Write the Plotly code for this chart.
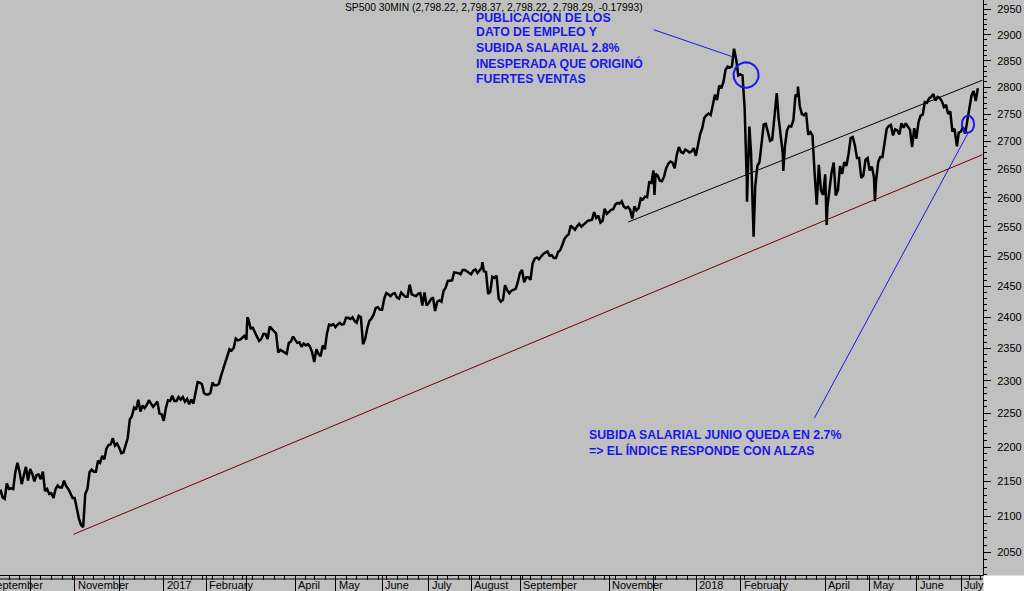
import numpy as np
import pandas as pd
import plotly.graph_objects as go

# ---------------- data ----------------
title_text = "SP500 30MIN (2,798.22, 2,798.37, 2,798.22, 2,798.29, -0.17993)"

holidays = ["2016-09-05", "2016-11-24", "2016-12-26", "2017-01-02", "2017-01-16", "2017-02-20",
            "2017-04-14", "2017-05-29", "2017-07-04", "2017-09-04", "2017-11-23", "2017-12-25",
            "2018-01-01", "2018-01-15", "2018-02-19", "2018-03-30", "2018-05-28", "2018-07-04"]

dates = [
    "2016-09-12", "2016-09-13", "2016-09-14", "2016-09-15", "2016-09-16", "2016-09-19", "2016-09-20",
    "2016-09-21", "2016-09-22", "2016-09-23", "2016-09-26", "2016-09-27", "2016-09-28", "2016-09-29",
    "2016-09-30", "2016-10-03", "2016-10-04", "2016-10-05", "2016-10-06", "2016-10-07", "2016-10-10",
    "2016-10-11", "2016-10-12", "2016-10-13", "2016-10-14", "2016-10-17", "2016-10-18", "2016-10-19",
    "2016-10-20", "2016-10-21", "2016-10-24", "2016-10-25", "2016-10-26", "2016-10-27", "2016-10-28",
    "2016-10-31", "2016-11-01", "2016-11-02", "2016-11-03", "2016-11-04", "2016-11-07", "2016-11-08",
    "2016-11-09", "2016-11-10", "2016-11-11", "2016-11-14", "2016-11-15", "2016-11-16", "2016-11-17",
    "2016-11-18", "2016-11-21", "2016-11-22", "2016-11-23", "2016-11-25", "2016-11-28", "2016-11-29",
    "2016-11-30", "2016-12-01", "2016-12-02", "2016-12-05", "2016-12-06", "2016-12-07", "2016-12-08",
    "2016-12-09", "2016-12-12", "2016-12-13", "2016-12-14", "2016-12-15", "2016-12-16", "2016-12-19",
    "2016-12-20", "2016-12-21", "2016-12-22", "2016-12-23", "2016-12-27", "2016-12-28", "2016-12-29",
    "2016-12-30",
    "2017-01-03", "2017-01-04", "2017-01-05", "2017-01-06", "2017-01-09", "2017-01-10", "2017-01-11",
    "2017-01-12", "2017-01-13", "2017-01-17", "2017-01-18", "2017-01-19", "2017-01-20", "2017-01-23",
    "2017-01-24", "2017-01-25", "2017-01-26", "2017-01-27", "2017-01-30", "2017-01-31", "2017-02-01",
    "2017-02-02", "2017-02-03", "2017-02-06", "2017-02-07", "2017-02-08", "2017-02-09", "2017-02-10",
    "2017-02-13", "2017-02-14", "2017-02-15", "2017-02-16", "2017-02-17", "2017-02-21", "2017-02-22",
    "2017-02-23", "2017-02-24", "2017-02-27", "2017-02-28", "2017-03-01 12:00", "2017-03-01", "2017-03-02",
    "2017-03-03", "2017-03-06", "2017-03-07", "2017-03-08", "2017-03-09", "2017-03-10", "2017-03-13",
    "2017-03-14", "2017-03-15", "2017-03-16", "2017-03-17", "2017-03-20", "2017-03-21", "2017-03-22",
    "2017-03-23", "2017-03-24", "2017-03-27", "2017-03-28", "2017-03-29", "2017-03-30", "2017-03-31",
    "2017-04-03", "2017-04-04", "2017-04-05", "2017-04-06", "2017-04-07", "2017-04-10", "2017-04-11",
    "2017-04-12", "2017-04-13", "2017-04-17", "2017-04-18", "2017-04-19", "2017-04-20", "2017-04-21",
    "2017-04-24", "2017-04-25", "2017-04-26", "2017-04-27", "2017-04-28", "2017-05-01", "2017-05-02",
    "2017-05-03", "2017-05-04", "2017-05-05", "2017-05-08", "2017-05-09", "2017-05-10", "2017-05-11",
    "2017-05-12", "2017-05-15", "2017-05-16", "2017-05-17", "2017-05-18", "2017-05-19", "2017-05-22",
    "2017-05-23", "2017-05-24", "2017-05-25", "2017-05-26", "2017-05-30", "2017-05-31", "2017-06-01",
    "2017-06-02", "2017-06-05", "2017-06-06", "2017-06-07", "2017-06-08", "2017-06-09", "2017-06-12",
    "2017-06-13", "2017-06-14", "2017-06-15", "2017-06-16", "2017-06-19", "2017-06-20", "2017-06-21",
    "2017-06-22", "2017-06-23", "2017-06-26", "2017-06-27", "2017-06-28", "2017-06-29", "2017-06-30",
    "2017-07-03", "2017-07-05", "2017-07-06", "2017-07-07", "2017-07-10", "2017-07-11", "2017-07-12",
    "2017-07-13", "2017-07-14", "2017-07-17", "2017-07-18", "2017-07-19", "2017-07-20", "2017-07-21",
    "2017-07-24", "2017-07-25", "2017-07-26", "2017-07-27", "2017-07-28", "2017-07-31", "2017-08-01",
    "2017-08-02", "2017-08-03", "2017-08-04", "2017-08-07", "2017-08-08 11:00", "2017-08-08", "2017-08-09",
    "2017-08-10", "2017-08-11", "2017-08-14", "2017-08-15", "2017-08-16", "2017-08-17", "2017-08-18",
    "2017-08-21", "2017-08-22", "2017-08-23", "2017-08-24", "2017-08-25", "2017-08-28", "2017-08-29",
    "2017-08-30", "2017-08-31", "2017-09-01", "2017-09-05", "2017-09-06", "2017-09-07", "2017-09-08",
    "2017-09-11", "2017-09-12", "2017-09-13", "2017-09-14", "2017-09-15", "2017-09-18", "2017-09-19",
    "2017-09-20", "2017-09-21", "2017-09-22", "2017-09-25", "2017-09-26", "2017-09-27", "2017-09-28",
    "2017-09-29", "2017-10-02", "2017-10-03", "2017-10-04", "2017-10-05", "2017-10-06", "2017-10-09",
    "2017-10-10", "2017-10-11", "2017-10-12", "2017-10-13", "2017-10-16", "2017-10-17", "2017-10-18",
    "2017-10-19", "2017-10-20", "2017-10-23", "2017-10-24", "2017-10-25", "2017-10-26", "2017-10-27",
    "2017-10-30", "2017-10-31", "2017-11-01", "2017-11-02", "2017-11-03", "2017-11-06", "2017-11-07",
    "2017-11-08", "2017-11-09", "2017-11-10", "2017-11-13", "2017-11-14", "2017-11-15", "2017-11-16",
    "2017-11-17", "2017-11-20", "2017-11-21", "2017-11-22", "2017-11-24", "2017-11-27", "2017-11-28",
    "2017-11-29", "2017-11-30", "2017-12-01 12:00", "2017-12-01", "2017-12-04", "2017-12-05", "2017-12-06",
    "2017-12-07", "2017-12-08", "2017-12-11", "2017-12-12", "2017-12-13", "2017-12-14", "2017-12-15",
    "2017-12-18", "2017-12-19", "2017-12-20", "2017-12-21", "2017-12-22", "2017-12-26", "2017-12-27",
    "2017-12-28", "2017-12-29",
    "2018-01-02", "2018-01-03", "2018-01-04", "2018-01-05", "2018-01-08", "2018-01-09", "2018-01-10",
    "2018-01-11", "2018-01-12", "2018-01-16", "2018-01-17", "2018-01-18", "2018-01-19", "2018-01-22",
    "2018-01-23", "2018-01-24", "2018-01-25", "2018-01-26", "2018-01-29", "2018-01-30", "2018-01-31",
    "2018-02-01", "2018-02-02", "2018-02-05 15:00", "2018-02-05", "2018-02-06 09:45", "2018-02-06 14:00",
    "2018-02-06", "2018-02-07 10:30", "2018-02-07", "2018-02-08", "2018-02-09 10:30", "2018-02-09",
    "2018-02-12", "2018-02-13", "2018-02-14", "2018-02-15", "2018-02-16", "2018-02-20", "2018-02-21",
    "2018-02-22", "2018-02-23", "2018-02-26", "2018-02-27 10:00", "2018-02-27", "2018-02-28", "2018-03-01",
    "2018-03-02 10:30", "2018-03-02", "2018-03-05", "2018-03-06", "2018-03-07", "2018-03-08", "2018-03-09",
    "2018-03-12", "2018-03-13 10:00", "2018-03-13", "2018-03-14", "2018-03-15", "2018-03-16", "2018-03-19",
    "2018-03-20", "2018-03-21", "2018-03-22", "2018-03-23", "2018-03-26", "2018-03-27", "2018-03-28",
    "2018-03-29", "2018-04-02 13:30", "2018-04-02", "2018-04-03", "2018-04-04", "2018-04-05", "2018-04-06",
    "2018-04-09", "2018-04-10", "2018-04-11", "2018-04-12", "2018-04-13", "2018-04-16", "2018-04-17",
    "2018-04-18", "2018-04-19", "2018-04-20", "2018-04-23", "2018-04-24", "2018-04-25", "2018-04-26",
    "2018-04-27", "2018-04-30", "2018-05-01", "2018-05-02", "2018-05-03 12:00", "2018-05-03", "2018-05-04",
    "2018-05-07", "2018-05-08", "2018-05-09", "2018-05-10", "2018-05-11", "2018-05-14", "2018-05-15",
    "2018-05-16", "2018-05-17", "2018-05-18", "2018-05-21", "2018-05-22", "2018-05-23", "2018-05-24",
    "2018-05-25", "2018-05-29", "2018-05-30", "2018-05-31", "2018-06-01", "2018-06-04", "2018-06-05",
    "2018-06-06", "2018-06-07", "2018-06-08", "2018-06-11", "2018-06-12", "2018-06-13", "2018-06-14",
    "2018-06-15", "2018-06-18", "2018-06-19", "2018-06-20", "2018-06-21", "2018-06-22", "2018-06-25",
    "2018-06-26", "2018-06-27", "2018-06-28 10:00", "2018-06-28", "2018-06-29", "2018-07-02", "2018-07-03",
    "2018-07-05", "2018-07-06", "2018-07-09", "2018-07-10", "2018-07-11", "2018-07-12",
]

prices = [
    2138, 2127, 2125, 2147, 2139, 2140, 2139,
    2163, 2177, 2164, 2146, 2160, 2171, 2151,
    2168, 2161, 2150, 2159, 2160, 2153, 2164,
    2136, 2139, 2132, 2133, 2126, 2139, 2144,
    2141, 2141, 2151, 2143, 2139, 2133, 2126,
    2126, 2111, 2097, 2088, 2085, 2132, 2139,
    2163, 2167, 2164, 2164, 2180, 2177, 2187,
    2182, 2198, 2203, 2204, 2213, 2202, 2205,
    2199, 2191, 2192, 2204, 2213, 2241, 2246,
    2259, 2256, 2271, 2253, 2262, 2258, 2263,
    2270, 2265, 2260, 2264, 2268, 2250, 2249,
    2239,
    2258, 2270, 2269, 2277, 2269, 2269, 2275,
    2271, 2275, 2268, 2272, 2264, 2271, 2265,
    2280, 2298, 2297, 2295, 2281, 2279, 2279,
    2281, 2297, 2293, 2293, 2295, 2307, 2316,
    2328, 2338, 2349, 2347, 2351, 2366, 2363,
    2364, 2367, 2370, 2364, 2400, 2396, 2382,
    2383, 2375, 2368, 2362, 2365, 2373, 2373,
    2365, 2385, 2381, 2378, 2374, 2344, 2348,
    2346, 2344, 2342, 2359, 2361, 2369, 2363,
    2359, 2360, 2353, 2358, 2355, 2357, 2353,
    2344, 2329, 2349, 2342, 2338, 2355, 2349,
    2374, 2388, 2387, 2389, 2384, 2388, 2391,
    2388, 2389, 2399, 2399, 2397, 2400, 2394,
    2391, 2402, 2400, 2357, 2365, 2382, 2394,
    2398, 2404, 2415, 2416, 2412, 2412, 2430,
    2439, 2437, 2434, 2438, 2439, 2432, 2430,
    2440, 2437, 2433, 2433, 2453, 2437, 2436,
    2434, 2438, 2439, 2419, 2440, 2419, 2423,
    2429, 2432, 2410, 2425, 2427, 2425, 2443,
    2448, 2459, 2459, 2460, 2473, 2473, 2472,
    2470, 2477, 2477, 2475, 2472, 2470, 2476,
    2478, 2472, 2477, 2481, 2490, 2475, 2474,
    2438, 2441, 2466, 2464, 2468, 2430, 2425,
    2428, 2452, 2444, 2439, 2443, 2444, 2446,
    2457, 2472, 2477, 2457, 2465, 2465, 2461,
    2488, 2496, 2498, 2495, 2500, 2504, 2506,
    2508, 2501, 2502, 2497, 2497, 2507, 2510,
    2519, 2529, 2534, 2537, 2552, 2549, 2545,
    2551, 2555, 2550, 2553, 2557, 2560, 2561,
    2562, 2575, 2565, 2569, 2557, 2560, 2581,
    2572, 2575, 2579, 2580, 2588, 2591, 2590,
    2594, 2585, 2582, 2584, 2579, 2564, 2585,
    2578, 2582, 2599, 2597, 2602, 2601, 2627,
    2626, 2648, 2605, 2642, 2639, 2630, 2629,
    2637, 2652, 2660, 2664, 2662, 2652, 2676,
    2690, 2681, 2679, 2685, 2683, 2680, 2682,
    2688, 2674,
    2696, 2713, 2724, 2743, 2748, 2751, 2748,
    2768, 2786, 2776, 2803, 2798, 2810, 2833,
    2839, 2837, 2839, 2873, 2853, 2822, 2824,
    2822, 2762, 2638, 2649, 2593, 2702,
    2695, 2727, 2682, 2581, 2533, 2620,
    2656, 2663, 2698, 2731, 2732, 2716, 2701,
    2703, 2748, 2780, 2789, 2744, 2714, 2678,
    2647, 2691, 2720, 2728, 2727, 2739, 2786,
    2783, 2801, 2765, 2750, 2748, 2752, 2712,
    2717, 2711, 2644, 2588, 2658, 2613, 2605,
    2641, 2553, 2582, 2614, 2644, 2662, 2604,
    2613, 2656, 2642, 2663, 2656, 2677, 2706,
    2708, 2693, 2670, 2670, 2635, 2639, 2667,
    2670, 2648, 2655, 2636, 2594, 2630, 2663,
    2672, 2672, 2698, 2723, 2728, 2730, 2711,
    2722, 2720, 2713, 2733, 2725, 2733, 2727,
    2721, 2690, 2724, 2705, 2735, 2747, 2749,
    2772, 2771, 2779, 2782, 2787, 2775, 2782,
    2780, 2774, 2763, 2767, 2750, 2755, 2718,
    2723, 2699, 2691, 2716, 2718, 2726, 2714,
    2737, 2760, 2784, 2793, 2774, 2798,
]

# month starts shown with a label in the time band
label_months = ["2016-09", "2016-11", "2017-01", "2017-02", "2017-04", "2017-05", "2017-06", "2017-07",
                "2017-08", "2017-09", "2017-11", "2018-01", "2018-02", "2018-04", "2018-05", "2018-06",
                "2018-07"]
label_texts = ["September", "November", "2017", "February", "April", "May", "June", "July",
               "August", "September", "November", "2018", "February", "April", "May", "June", "July"]

price_ticks = list(range(2050, 3000, 50))

# analyst drawings: (date/time, price) anchors
support_line = [("2016-10-31 12:00", 2075), ("2018-07-17 09:30", 2676)]
channel_line = [("2017-11-14 09:30", 2558), ("2018-07-17 09:30", 2813)]
arrow1 = [("2017-12-01 09:30", 2910), ("2018-01-26 14:00", 2857)]
arrow2 = [("2018-03-22 14:45", 2243), ("2018-07-06 12:00", 2716)]
circle1 = [("2018-01-26 14:00", 2799), ("2018-02-13 12:45", 2847)]
circle2 = [("2018-07-02 12:00", 2716), ("2018-07-11 10:30", 2747)]

note1 = ["PUBLICACIÓN DE LOS", "DATO DE EMPLEO Y", "SUBIDA SALARIAL 2.8%",
         "INESPERADA QUE ORIGINÓ", "FUERTES VENTAS"]
note2 = ["SUBIDA SALARIAL JUNIO QUEDA EN 2.7%", "=> EL ÍNDICE RESPONDE CON ALZAS"]

# ---------------- trading calendar ----------------
cal = pd.bdate_range("2016-09-01", "2018-08-31")
cal = cal[~cal.isin(pd.to_datetime(holidays))]
pos = {d.strftime("%Y-%m-%d"): i for i, d in enumerate(cal)}


def tx(s):
    d, _, t = s.partition(" ")
    if not t:
        t = "15:30"
    h, m = map(int, t.split(":"))
    return pos[d] + ((h * 60 + m) - 570) / 390.0


xs = [tx(s) for s in dates]

X0 = pos["2016-11-01"] - 75 / 2.1247
X1 = pos["2018-07-02"] + 22 / 2.1247
Y0, Y1 = 3.30518, 3.47253
W, H = 983, 575

cal_s = pd.Series(cal)
month_starts = cal_s.groupby(cal_s.dt.to_period("M")).first()
week_starts = cal_s.groupby(cal_s.dt.to_period("W")).first()
month_x = [pos[d.strftime("%Y-%m-%d")] for d in month_starts]
week_x = [pos[d.strftime("%Y-%m-%d")] for d in week_starts]

BLUE = "#1818E8"
FONT = "Liberation Sans"

fig = go.Figure()
fig.add_trace(go.Scatter(x=xs, y=prices, mode="lines",
                         line=dict(color="#000000", width=2.5), hoverinfo="skip"))


def seg(pts, color, width):
    (a, va), (b, vb) = pts
    fig.add_trace(go.Scatter(x=[tx(a), tx(b)], y=[va, vb], mode="lines",
                             line=dict(color=color, width=width), hoverinfo="skip"))


def ellipse(pts, color, width):
    (a, va), (b, vb) = pts
    cx, rx = (tx(a) + tx(b)) / 2, (tx(b) - tx(a)) / 2
    ly0, ly1 = np.log10(va), np.log10(vb)
    cy, ry = (ly0 + ly1) / 2, (ly1 - ly0) / 2
    t = np.linspace(0, 2 * np.pi, 73)
    fig.add_trace(go.Scatter(x=cx + rx * np.cos(t), y=10 ** (cy + ry * np.sin(t)), mode="lines",
                             line=dict(color=color, width=width), hoverinfo="skip"))


seg(support_line, "#700000", 1)
seg(channel_line, "#000000", 1)
seg(arrow1, BLUE, 1)
seg(arrow2, BLUE, 1)
ellipse(circle1, BLUE, 2)
ellipse(circle2, BLUE, 2)

# time band second line and white corner
fig.add_shape(type="line", xref="paper", yref="paper", x0=0, x1=1, y0=-4 / H, y1=-4 / H,
              line=dict(color="black", width=1))
fig.add_shape(type="rect", xref="paper", yref="paper", x0=1 + 0.5 / W, x1=1 + 41 / W,
              y0=-16 / H, y1=-0.5 / H, fillcolor="white", line=dict(width=0))

annotations = []
annotations.append(dict(text=title_text, xref="paper", yref="paper", x=343 / W, y=1 - 8 / H,
                        xanchor="left", yanchor="middle", showarrow=False,
                        font=dict(family=FONT, size=10.3, color="#000000")))
for i, t in enumerate(note1):
    annotations.append(dict(text="<b>" + t + "</b>", xref="paper", yref="paper", x=474 / W,
                            y=1 - (17 + 15.4 * i) / H,
                            xanchor="left", yanchor="middle", showarrow=False,
                            font=dict(family=FONT, size=12.3, color=BLUE)))
for i, t in enumerate(note2):
    annotations.append(dict(text="<b>" + t + "</b>", xref="paper", yref="paper", x=587 / W,
                            y=1 - (435 + 15 * i) / H,
                            xanchor="left", yanchor="middle", showarrow=False,
                            font=dict(family=FONT, size=12.3, color=BLUE)))
for m, t in zip(label_months, label_texts):
    d = month_starts[pd.Period(m, "M")].strftime("%Y-%m-%d")
    annotations.append(dict(text=t, xref="paper", yref="paper", x=(pos[d] - X0) / (X1 - X0),
                            y=-10 / H, xanchor="left", yanchor="middle", xshift=1, showarrow=False,
                            font=dict(family=FONT, size=11, color="#000000")))

minor_vals = [v for v in range(2020, 2970, 10) if v % 50 != 0]

fig.update_layout(
    width=1024, height=591,
    margin=dict(l=0, r=41, t=0, b=16),
    paper_bgcolor="#C0C0C0", plot_bgcolor="#C0C0C0",
    showlegend=False,
    font=dict(family=FONT, size=11, color="#000000"),
    annotations=annotations,
    xaxis=dict(range=[X0, X1], showgrid=False, zeroline=False, showline=True,
               linecolor="black", linewidth=1, ticks="outside", tickmode="array",
               tickvals=month_x, ticklen=16, tickcolor="black", tickwidth=1,
               showticklabels=False,
               minor=dict(tickmode="array", tickvals=week_x, ticks="outside", ticklen=4,
                          tickcolor="black", tickwidth=1, showgrid=False)),
    yaxis=dict(type="log", side="right", range=[Y0, Y1], showgrid=False, zeroline=False,
               showline=True, linecolor="black", linewidth=1, ticks="outside",
               tickmode="array", tickvals=price_ticks, ticktext=[str(v) for v in price_ticks],
               ticklen=7, tickcolor="black", tickwidth=1, ticklabelstandoff=4,
               tickfont=dict(family=FONT, size=11, color="#000000"),
               minor=dict(tickmode="array", tickvals=minor_vals, ticks="outside", ticklen=3,
                          tickcolor="black", tickwidth=1, showgrid=False)),
)

fig.write_html("out.html", config={"displayModeBar": False},
               post_script="document.body.style.margin='0px';document.body.style.overflow='hidden';")
